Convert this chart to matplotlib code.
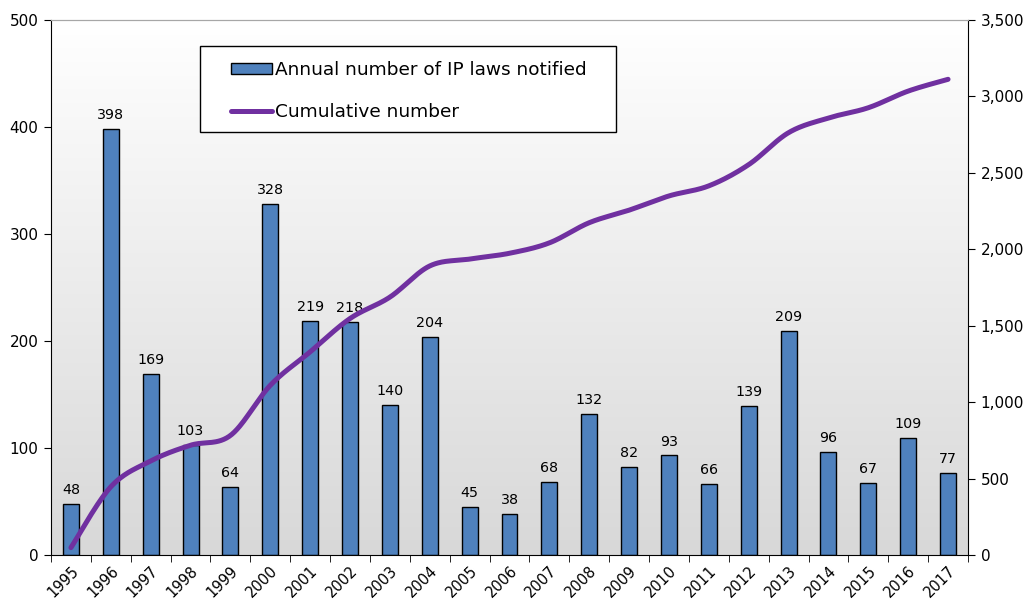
import numpy as np
import matplotlib
matplotlib.use("Agg")
import matplotlib.pyplot as plt
from matplotlib.ticker import FuncFormatter, MultipleLocator
from matplotlib.lines import Line2D
from matplotlib.patches import Patch, Rectangle

years = ["1995", "1996", "1997", "1998", "1999", "2000", "2001", "2002", "2003",
         "2004", "2005", "2006", "2007", "2008", "2009", "2010", "2011", "2012",
         "2013", "2014", "2015", "2016", "2017"]
annual = [48, 398, 169, 103, 64, 328, 219, 218, 140, 204, 45, 38, 68, 132, 82,
          93, 66, 139, 209, 96, 67, 109, 77]
cumulative = [48, 446, 615, 718, 782, 1110, 1329, 1547, 1687, 1891, 1936, 1974,
              2042, 2174, 2256, 2349, 2415, 2554, 2763, 2859, 2926, 3035, 3112]

BAR_COLOR = "#4f81bd"
LINE_COLOR = "#7030a0"
plt.rcParams["font.family"] = ["DejaVu Sans"]


def smooth_curve(x, y, n=30):
    """Bezier smoothing through every point (Catmull-Rom style control points)."""
    x = np.asarray(x, float)
    y = np.asarray(y, float)
    px, py = [], []
    m = len(x)
    for i in range(m - 1):
        x0, y0 = (x[i - 1], y[i - 1]) if i > 0 else (x[i], y[i])
        x3, y3 = (x[i + 2], y[i + 2]) if i + 2 < m else (x[i + 1], y[i + 1])
        c1x = x[i] + (x[i + 1] - x0) / 6.0
        c1y = y[i] + (y[i + 1] - y0) / 6.0
        c2x = x[i + 1] - (x3 - x[i]) / 6.0
        c2y = y[i + 1] - (y3 - y[i]) / 6.0
        t = np.linspace(0, 1, n, endpoint=(i == m - 2))
        b0 = (1 - t) ** 3
        b1 = 3 * (1 - t) ** 2 * t
        b2 = 3 * (1 - t) * t ** 2
        b3 = t ** 3
        px.append(b0 * x[i] + b1 * c1x + b2 * c2x + b3 * x[i + 1])
        py.append(b0 * y[i] + b1 * c1y + b2 * c2y + b3 * y[i + 1])
    return np.concatenate(px), np.concatenate(py)


W, H = 1025, 599
fig = plt.figure(figsize=(W / 100, H / 100), dpi=100)
AX_L, AX_B, AX_W, AX_H = 51, 44, 917, 535
ax = fig.add_axes([AX_L / W, AX_B / H, AX_W / W, AX_H / H])

pos = np.arange(len(years))
ax.set_xlim(-0.5, len(years) - 0.5)
ax.set_ylim(0, 500)

# soft vertical gradient behind the plot
grad = np.linspace(1.0, 0.0, 256).reshape(-1, 1)
top_c = np.array([1.0, 1.0, 1.0])
bot_c = np.array([0xd8, 0xd8, 0xd8]) / 255.0
img = grad[..., None] * top_c + (1 - grad[..., None]) * bot_c
ax.imshow(img, extent=[-0.5, len(years) - 0.5, 0, 500], aspect="auto",
          zorder=0, interpolation="bicubic")

ax.bar(pos, annual, width=0.4, color=BAR_COLOR, edgecolor="black",
       linewidth=1.0, zorder=2)
for x, v in zip(pos, annual):
    ax.annotate(str(v), (x, v), xytext=(0, 5), textcoords="offset points",
                ha="center", va="bottom", fontsize=10.3, zorder=3)

ax.yaxis.set_major_locator(MultipleLocator(100))
ax.tick_params(axis="y", direction="out", length=5, labelsize=11, pad=4)
ax.set_xticks(pos)
ax.set_xticklabels(years, rotation=45, ha="right", va="top",
                   rotation_mode="anchor", fontsize=10.5)
ax.tick_params(axis="x", which="major", length=0, pad=6)
ax.set_xticks(np.arange(-0.5, len(years), 1.0), minor=True)
ax.tick_params(axis="x", which="minor", direction="out", length=5)

for side in ("left", "bottom"):
    ax.spines[side].set_color("black")
ax.spines["top"].set_color("#a6a6a6")
ax.spines["right"].set_visible(False)

ax2 = ax.twinx()
ax2.set_ylim(0, 3500)
ax2.patch.set_visible(False)
sx, sy = smooth_curve(pos, cumulative)
ax2.plot(sx, sy, color=LINE_COLOR, linewidth=3.6, solid_capstyle="round", zorder=4)
ax2.yaxis.set_major_locator(MultipleLocator(500))
ax2.yaxis.set_major_formatter(FuncFormatter(lambda v, p: f"{int(v):,}"))
ax2.tick_params(axis="y", direction="out", length=5, labelsize=11, pad=4)
ax2.spines["right"].set_color("black")
ax2.spines["top"].set_color("#a6a6a6")
for side in ("left", "bottom"):
    ax2.spines[side].set_visible(False)

# legend box, in figure pixels converted to axes fraction
box_x0, box_x1 = 200, 616
box_y0, box_y1 = 46, 132   # measured from the top of the figure
fx0 = (box_x0 - AX_L) / AX_W
fx1 = (box_x1 - AX_L) / AX_W
fy_top = (H - box_y0 - AX_B) / AX_H
fy_bot = (H - box_y1 - AX_B) / AX_H
frame = Rectangle((fx0, fy_bot), fx1 - fx0, fy_top - fy_bot,
                  transform=ax2.transAxes, facecolor="white", edgecolor="black",
                  linewidth=1.0, zorder=5)
ax2.add_patch(frame)

handles = [Patch(facecolor=BAR_COLOR, edgecolor="black", linewidth=1.0),
           Line2D([], [], color=LINE_COLOR, linewidth=3.6, solid_capstyle="round")]
labels = ["Annual number of IP laws notified", "Cumulative number"]
leg = ax2.legend(handles, labels, loc="center left",
                 bbox_to_anchor=((231 - AX_L) / AX_W,
                                 (fy_top + fy_bot) / 2 - 2 / AX_H),
                 fontsize=13.3, frameon=False, handlelength=2.2,
                 handleheight=0.55, handletextpad=0.2, labelspacing=1.28,
                 borderpad=0, borderaxespad=0)
leg.set_zorder(6)

fig.savefig("out.png", dpi=100)
